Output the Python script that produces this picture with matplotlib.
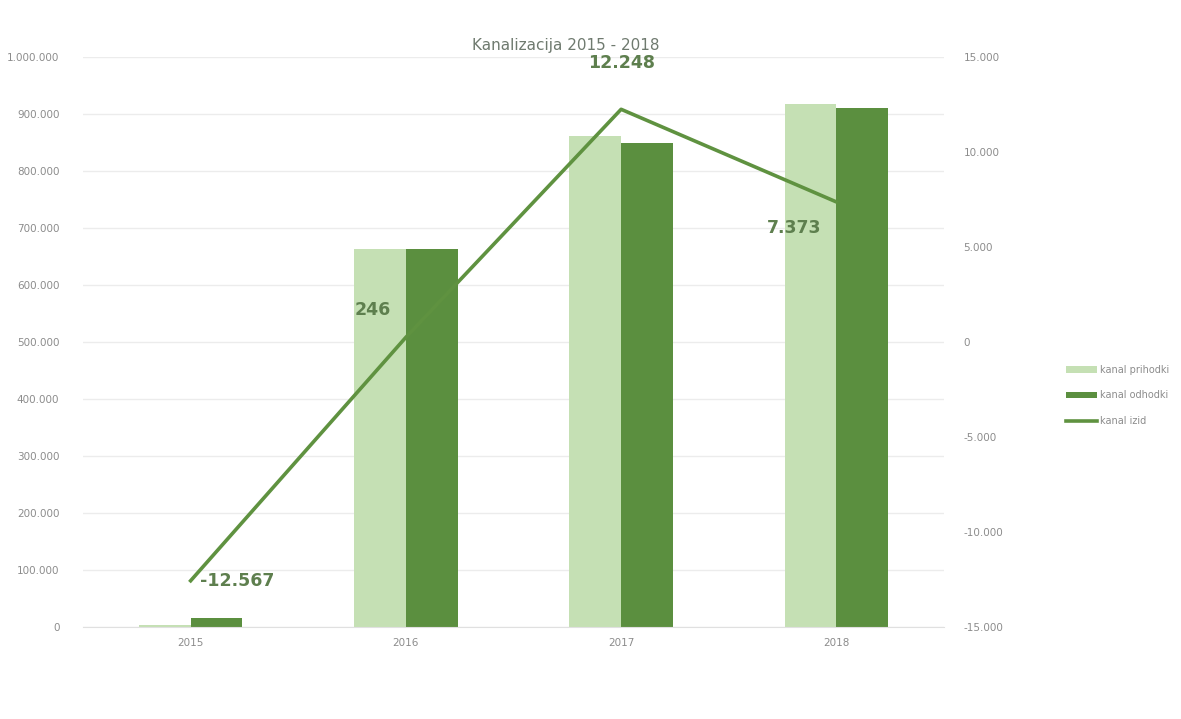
import numpy as np
import matplotlib.pyplot as plt
from matplotlib.ticker import FuncFormatter

# Data
years = ['2015', '2016', '2017', '2018']
prihodki = [4000, 663500, 861000, 917500]
odhodki = [16567, 663254, 848752, 910127]
izid = [-12567, 246, 12248, 7373]
izid_labels = ['-12.567', '246', '12.248', '7.373']

light = '#c5e0b4'
dark = '#5b8f3f'
line_col = '#5f9240'
label_col = '#5e7f4e'
tick_col = '#8c8c8c'


def dots(v, pos=None):
    s = f'{abs(int(round(v))):,}'.replace(',', '.')
    return ('-' if v < 0 else '') + s


fig = plt.figure(figsize=(11.81, 7.19), dpi=100)
ax = fig.add_axes([0.0703, 0.128, 0.729, 0.7927])
x = np.arange(len(years))
w = 0.24

b1 = ax.bar(x - w / 2, prihodki, w, color=light, label='kanal prihodki', zorder=2)
b2 = ax.bar(x + w / 2, odhodki, w, color=dark, label='kanal odhodki', zorder=2)
ax.set_xlim(-0.5, 3.5)
ax.set_ylim(0, 1000000)
ax.set_yticks(np.arange(0, 1000001, 100000))
ax.yaxis.set_major_formatter(FuncFormatter(dots))
ax.set_xticks(x)
ax.set_xticklabels(years)
ax.grid(axis='y', color='#ececec', linewidth=1, zorder=0)
ax.set_axisbelow(True)
for s in ax.spines.values():
    s.set_visible(False)
ax.spines['bottom'].set_visible(True)
ax.spines['bottom'].set_color('#e0e0e0')
ax.tick_params(length=0, colors=tick_col, labelsize=7.5)
ax.tick_params(axis='x', pad=8)
ax.tick_params(axis='y', pad=17)

ax2 = ax.twinx()
ln, = ax2.plot(x, izid, color=line_col, linewidth=2.6, label='kanal izid', zorder=3)
ax2.set_ylim(-15000, 15000)
ax2.set_yticks(np.arange(-15000, 15001, 5000))
ax2.yaxis.set_major_formatter(FuncFormatter(dots))
for s in ax2.spines.values():
    s.set_visible(False)
ax2.tick_params(length=0, colors=tick_col, labelsize=7.5, pad=14)

# data labels on the line
offsets = [(7, 0, 'left', 'center'), (-11, 20, 'right', 'center'),
           (0, 27, 'center', 'bottom'), (-11, -19, 'right', 'center')]
for xi, yi, txt, (dx, dy, ha, va) in zip(x, izid, izid_labels, offsets):
    ax2.annotate(txt, (xi, yi), xytext=(dx, dy), textcoords='offset points',
                 ha=ha, va=va, fontsize=12.5, fontweight='bold', color=label_col)

fig.text(0.479, 0.937, 'Kanalizacija 2015 - 2018', ha='center', va='center',
         fontsize=11, color='#6f7a6f')

fig.legend(handles=[b1, b2, ln], loc='center left', bbox_to_anchor=(0.895, 0.45),
           frameon=False, fontsize=7, labelcolor='#8c8c8c', handlelength=3.2,
           labelspacing=1.6, handletextpad=0.3)

plt.savefig('out.png', dpi=100)
